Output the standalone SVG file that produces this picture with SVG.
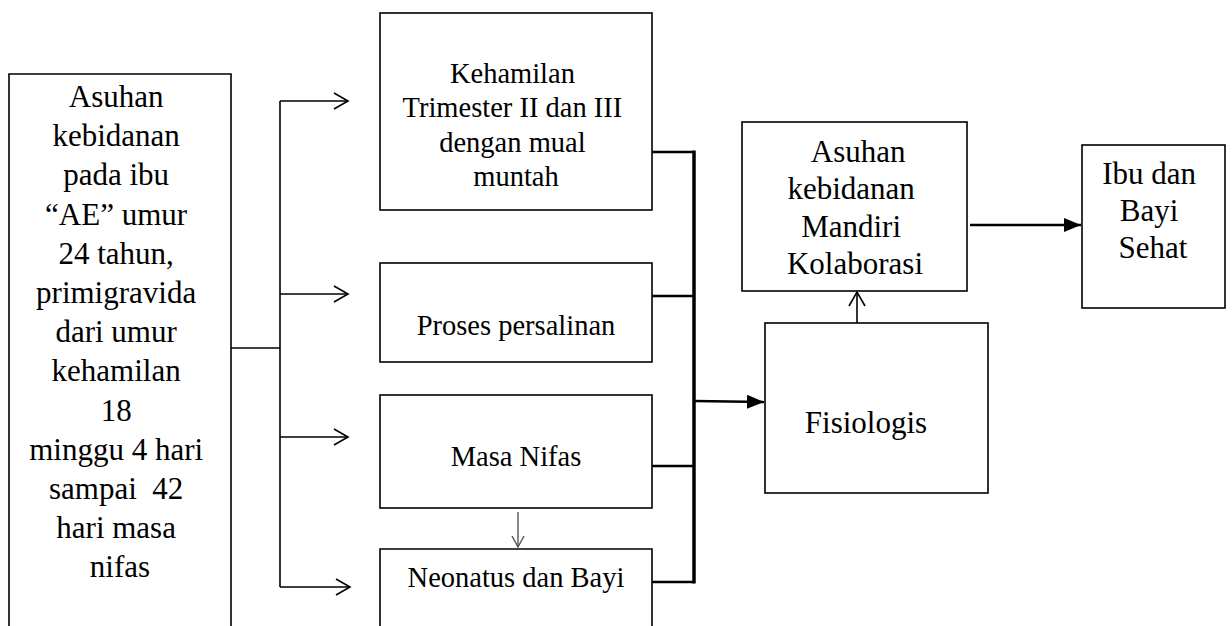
<svg xmlns="http://www.w3.org/2000/svg" width="1232" height="626" viewBox="0 0 1232 626">
<style>
.box{fill:#fff;stroke:#000;stroke-width:1.6}
.t{font-family:"Liberation Serif","Times New Roman",serif;fill:#000;text-anchor:middle}
.s31{font-size:31px}
.s28{font-size:28.5px}
.ln{stroke:#000;stroke-width:1.6;fill:none}
.thk{stroke:#000;stroke-width:3.5;fill:none}
.med{stroke:#000;stroke-width:2.4;fill:none}
</style>
<defs>
<marker id="open" markerWidth="18" markerHeight="18" refX="15" refY="9" orient="auto" markerUnits="userSpaceOnUse">
<path d="M1,1 L15,9 L1,17" fill="none" stroke="#000" stroke-width="1.6"/>
</marker>
<marker id="openS" markerWidth="14" markerHeight="14" refX="12" refY="7" orient="auto" markerUnits="userSpaceOnUse">
<path d="M1,1 L12,7 L1,13" fill="none" stroke="#555" stroke-width="1.4"/>
</marker>
<marker id="fill" markerWidth="18" markerHeight="14" refX="17" refY="7" orient="auto" markerUnits="userSpaceOnUse">
<path d="M0,0 L17,7 L0,14 Z" fill="#000"/>
</marker>
</defs>
<g id="node-asuhan-ae">
<path class="box" d="M9,640 V74 H231 V640"/>
<text class="t s31">
<tspan x="120" y="107">Asuhan</tspan>
<tspan x="120" y="146">kebidanan</tspan>
<tspan x="120" y="185">pada ibu</tspan>
<tspan x="120" y="225">“AE” umur</tspan>
<tspan x="120" y="264">24 tahun,</tspan>
<tspan x="120" y="303">primigravida</tspan>
<tspan x="120" y="342">dari umur</tspan>
<tspan x="120" y="381">kehamilan</tspan>
<tspan x="120" y="421">18</tspan>
<tspan x="120" y="460">minggu 4 hari</tspan>
<tspan x="120" y="499">sampai&#160; 42</tspan>
<tspan x="120" y="538">hari masa</tspan>
<tspan x="120" y="577">nifas</tspan>
</text>
</g>
<g id="node-kehamilan">
<rect class="box" x="380" y="13" width="272" height="197"/>
<text class="t s28">
<tspan x="516" y="83">Kehamilan</tspan>
<tspan x="516" y="117">Trimester II dan III</tspan>
<tspan x="516" y="152">dengan mual</tspan>
<tspan x="516" y="186">muntah</tspan>
</text>
</g>
<g id="node-persalinan">
<rect class="box" x="380" y="263" width="272" height="99"/>
<text class="t s28" x="516" y="335">Proses persalinan</text>
</g>
<g id="node-nifas">
<rect class="box" x="380" y="395" width="272" height="113"/>
<text class="t s28" x="516" y="466">Masa Nifas</text>
</g>
<g id="node-neonatus">
<path class="box" d="M380,640 V549 H652 V640"/>
<text class="t s28" x="516" y="587">Neonatus dan Bayi</text>
</g>
<g id="node-fisiologis">
<rect class="box" x="765" y="323" width="223" height="170"/>
<text class="t s31" x="866" y="433">Fisiologis</text>
</g>
<g id="node-asuhan-mandiri">
<rect class="box" x="742" y="122" width="225" height="169"/>
<text class="t s31">
<tspan x="862" y="162">Asuhan</tspan>
<tspan x="855" y="199">kebidanan</tspan>
<tspan x="855" y="237">Mandiri</tspan>
<tspan x="855" y="274">Kolaborasi</tspan>
</text>
</g>
<g id="node-sehat">
<rect class="box" x="1082" y="145" width="143" height="163"/>
<text class="t s31">
<tspan x="1153" y="184">Ibu dan</tspan>
<tspan x="1153" y="221">Bayi</tspan>
<tspan x="1153" y="258">Sehat</tspan>
</text>
</g>
<g id="connectors">
<line class="ln" x1="231" y1="348" x2="280" y2="348"/>
<line class="ln" x1="280" y1="101" x2="280" y2="587"/>
<line class="ln" x1="280" y1="101" x2="348" y2="101" marker-end="url(#open)"/>
<line class="ln" x1="280" y1="294" x2="348" y2="294" marker-end="url(#open)"/>
<line class="ln" x1="280" y1="437" x2="348" y2="437" marker-end="url(#open)"/>
<line class="ln" x1="280" y1="587" x2="350" y2="587" marker-end="url(#open)"/>
<line x1="518" y1="512" x2="518" y2="547" stroke="#555" stroke-width="1.4" marker-end="url(#openS)"/>
<line class="med" x1="652" y1="152" x2="694" y2="152"/>
<line class="med" x1="652" y1="296" x2="694" y2="296"/>
<line class="med" x1="652" y1="466" x2="694" y2="466"/>
<line class="med" x1="652" y1="582" x2="694" y2="582"/>
<line class="thk" x1="694" y1="150.5" x2="694" y2="583.5"/>
<line class="med" x1="694" y1="401" x2="764" y2="402" marker-end="url(#fill)"/>
<line class="ln" x1="857" y1="323" x2="857" y2="292" marker-end="url(#open)"/>
<line class="med" x1="970" y1="225" x2="1081" y2="225" marker-end="url(#fill)"/>
</g>
</svg>
